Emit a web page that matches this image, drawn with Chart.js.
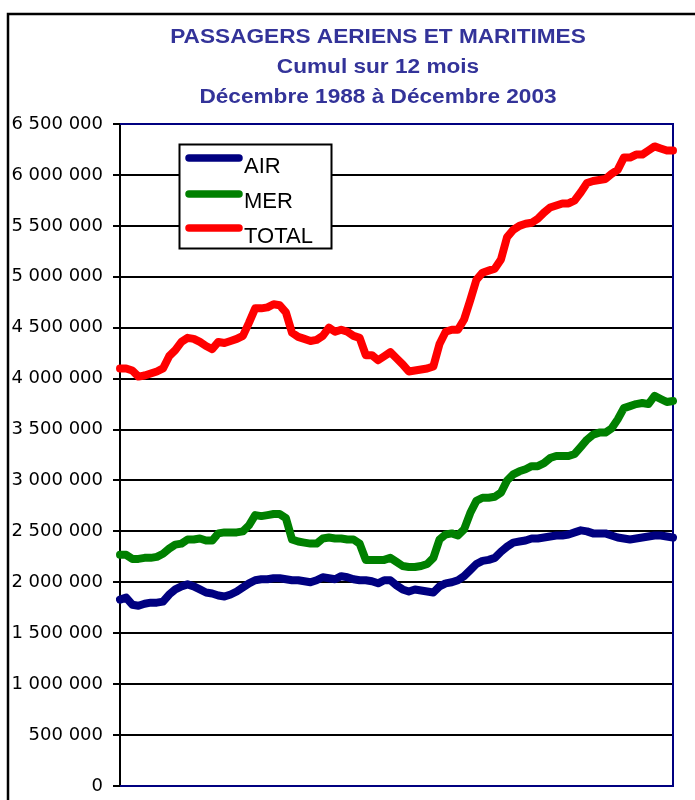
<!DOCTYPE html>
<html><head><meta charset="utf-8">
<script src="https://cdn.jsdelivr.net/npm/chart.js@4.4.0/dist/chart.umd.min.js"></script>
<style>html,body{margin:0;padding:0;background:#fff}canvas{display:block}</style>
</head><body>
<canvas id="c" width="695" height="800"></canvas>
<script>
const categories = [
  "12/1988",
  "02/1989","04/1989","06/1989","08/1989","10/1989","12/1989",
  "02/1990","04/1990","06/1990","08/1990","10/1990","12/1990",
  "02/1991","04/1991","06/1991","08/1991","10/1991","12/1991",
  "02/1992","04/1992","06/1992","08/1992","10/1992","12/1992",
  "02/1993","04/1993","06/1993","08/1993","10/1993","12/1993",
  "02/1994","04/1994","06/1994","08/1994","10/1994","12/1994",
  "02/1995","04/1995","06/1995","08/1995","10/1995","12/1995",
  "02/1996","04/1996","06/1996","08/1996","10/1996","12/1996",
  "02/1997","04/1997","06/1997","08/1997","10/1997","12/1997",
  "02/1998","04/1998","06/1998","08/1998","10/1998","12/1998",
  "02/1999","04/1999","06/1999","08/1999","10/1999","12/1999",
  "02/2000","04/2000","06/2000","08/2000","10/2000","12/2000",
  "02/2001","04/2001","06/2001","08/2001","10/2001","12/2001",
  "02/2002","04/2002","06/2002","08/2002","10/2002","12/2002",
  "02/2003","04/2003","06/2003","08/2003","10/2003","12/2003"
];
const airValues = [
  1830000,1850000,1780000,1770000,1790000,1800000,1800000,1810000,1880000,1930000,
  1960000,1980000,1960000,1930000,1900000,1890000,1870000,1860000,1880000,1910000,
  1950000,1990000,2020000,2030000,2030000,2040000,2040000,2030000,2020000,2020000,
  2010000,2000000,2020000,2050000,2040000,2030000,2060000,2050000,2030000,2020000,
  2020000,2010000,1990000,2020000,2020000,1970000,1930000,1910000,1930000,1920000,
  1910000,1900000,1960000,1990000,2000000,2020000,2060000,2120000,2180000,2210000,
  2220000,2240000,2300000,2350000,2390000,2400000,2410000,2430000,2430000,2440000,
  2450000,2460000,2460000,2470000,2490000,2510000,2500000,2480000,2480000,2480000,
  2460000,2440000,2430000,2420000,2430000,2440000,2450000,2460000,2460000,2450000,
  2440000
];
const merValues = [
  2270000,2270000,2230000,2230000,2240000,2240000,2250000,2280000,2330000,2370000,
  2380000,2420000,2420000,2430000,2410000,2410000,2480000,2490000,2490000,2490000,
  2500000,2560000,2660000,2650000,2660000,2670000,2670000,2630000,2420000,2400000,
  2390000,2380000,2380000,2430000,2440000,2430000,2430000,2420000,2420000,2380000,
  2220000,2220000,2220000,2220000,2240000,2200000,2160000,2150000,2150000,2160000,
  2180000,2240000,2420000,2470000,2480000,2460000,2520000,2680000,2800000,2830000,
  2830000,2840000,2880000,3000000,3060000,3090000,3110000,3140000,3140000,3170000,
  3220000,3240000,3240000,3240000,3260000,3330000,3400000,3450000,3470000,3470000,
  3510000,3600000,3710000,3730000,3750000,3760000,3750000,3830000,3800000,3770000,
  3780000
];
const totalValues = [
  4100000,4100000,4080000,4020000,4030000,4050000,4070000,4100000,4220000,4280000,
  4360000,4400000,4390000,4360000,4320000,4290000,4360000,4350000,4370000,4390000,
  4420000,4550000,4690000,4690000,4700000,4730000,4720000,4650000,4450000,4410000,
  4390000,4370000,4380000,4420000,4500000,4460000,4480000,4460000,4420000,4400000,
  4230000,4230000,4180000,4220000,4260000,4200000,4140000,4070000,4080000,4090000,
  4100000,4120000,4340000,4460000,4480000,4480000,4580000,4770000,4970000,5040000,
  5060000,5080000,5170000,5390000,5460000,5500000,5520000,5530000,5570000,5630000,
  5680000,5700000,5720000,5720000,5750000,5830000,5920000,5940000,5950000,5960000,
  6010000,6050000,6170000,6170000,6200000,6200000,6240000,6280000,6260000,6240000,
  6240000
];
const seriesNames = ["AIR", "MER", "TOTAL"];
const seriesColors = ["#000080", "#008000", "#ff0000"];
const titleLines = ["PASSAGERS AERIENS ET MARITIMES", "Cumul sur 12 mois", "Décembre 1988 à Décembre 2003"];
const yMin = 0, yMax = 6500000, yStep = 500000;

function fmt(v) { return String(v).replace(/\B(?=(\d{3})+(?!\d))/g, " "); }

const framePlugin = {
  id: "frame",
  beforeDraw(chart) {
    const ctx = chart.ctx;
    ctx.save();
    ctx.fillStyle = "#fff";
    ctx.fillRect(0, 0, chart.width, chart.height);
    ctx.strokeStyle = "#000";
    ctx.lineWidth = 2.5;
    ctx.beginPath();
    ctx.moveTo(8, 800); ctx.lineTo(8, 14); ctx.lineTo(695, 14);
    ctx.stroke();
    ctx.restore();
  },
  beforeDatasetsDraw(chart) {
    const ctx = chart.ctx, a = chart.chartArea;
    ctx.save();
    ctx.strokeStyle = "#000080";
    ctx.lineWidth = 2;
    ctx.beginPath();
    ctx.moveTo(a.left, a.top); ctx.lineTo(a.right, a.top); ctx.lineTo(a.right, a.bottom); ctx.lineTo(a.left, a.bottom);
    ctx.stroke();
    ctx.restore();
  },
  afterDraw(chart) {
    const ctx = chart.ctx;
    const baselines = [43, 73, 103];
    ctx.save();
    ctx.fillStyle = "#333399";
    ctx.font = 'bold 19.5px "Liberation Sans", Arial, sans-serif';
    ctx.textAlign = "center";
    ctx.textBaseline = "alphabetic";
    titleLines.forEach((t, i) => {
      ctx.save();
      ctx.translate(378, baselines[i]);
      ctx.scale(1.16, 1);
      ctx.fillText(t, 0, 0);
      ctx.restore();
    });
    // legend
    const bx = 179.5, by = 144.5, bw = 152, bh = 104;
    ctx.fillStyle = "#fff";
    ctx.fillRect(bx, by, bw, bh);
    ctx.strokeStyle = "#000";
    ctx.lineWidth = 2;
    ctx.strokeRect(bx, by, bw, bh);
    const lineYs = [158, 194, 228];
    const textYs = [173, 208, 243];
    ctx.font = '22px "Liberation Sans", Arial, sans-serif';
    ctx.textAlign = "left";
    chart.data.datasets.forEach((ds, i) => {
      ctx.strokeStyle = ds.borderColor;
      ctx.lineWidth = 7.5;
      ctx.lineCap = "round";
      ctx.beginPath();
      ctx.moveTo(189, lineYs[i]); ctx.lineTo(239, lineYs[i]);
      ctx.stroke();
      ctx.fillStyle = "#000";
      ctx.fillText(ds.label, 244, textYs[i]);
    });
    ctx.restore();
  }
};

new Chart(document.getElementById("c"), {
  type: "line",
  data: {
    labels: categories,
    datasets: [airValues, merValues, totalValues].map((d, i) => ({
      label: seriesNames[i],
      data: d,
      borderColor: seriesColors[i],
      backgroundColor: seriesColors[i],
      borderWidth: 8,
      borderCapStyle: "round",
      borderJoinStyle: "round",
      pointRadius: 0,
      tension: 0,
      fill: false
    }))
  },
  options: {
    responsive: false,
    devicePixelRatio: 1,
    animation: false,
    layout: { padding: { left: 0, right: 22, top: 124, bottom: 14 } },
    plugins: { legend: { display: false }, title: { display: false }, tooltip: { enabled: false } },
    scales: {
      x: { type: "category", display: false, offset: false },
      y: {
        min: yMin, max: yMax,
        afterFit(scale) { scale.width = 120; scale.paddingTop = 0; scale.paddingBottom = 0; },
        ticks: {
          stepSize: yStep, autoSkip: false, padding: 10, color: "#000",
          font: { family: '"DejaVu Sans", sans-serif', size: 18 },
          callback: (v) => fmt(v)
        },
        grid: { color: "#000", lineWidth: 2, tickLength: 7, drawTicks: true },
        border: { display: true, color: "#000", width: 2 }
      }
    }
  },
  plugins: [framePlugin]
});
</script>
</body></html>
